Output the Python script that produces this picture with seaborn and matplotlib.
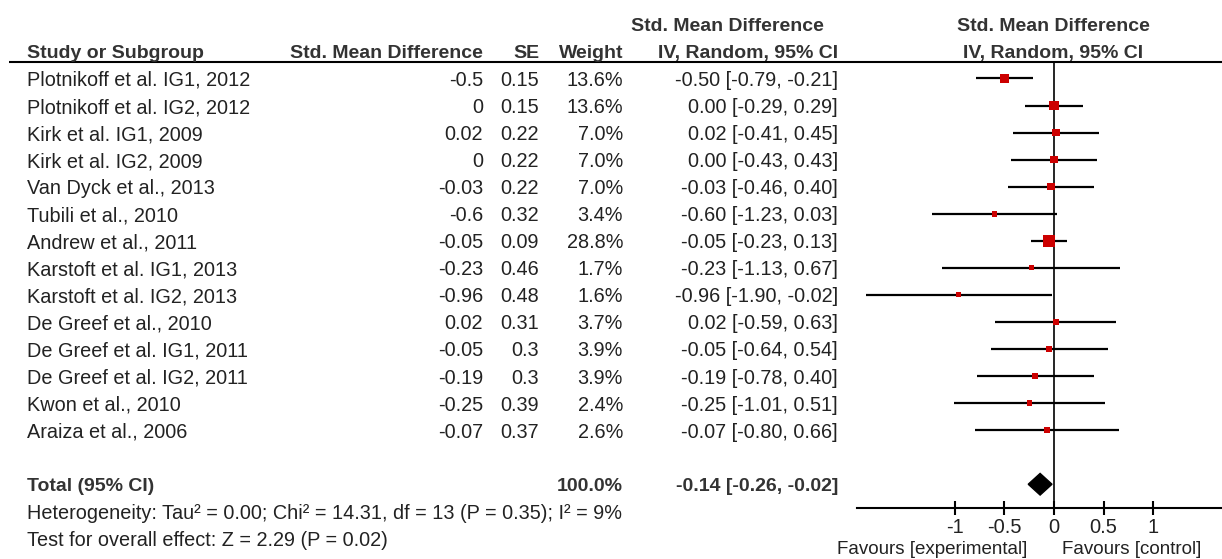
import numpy as np
import pandas as pd
import seaborn as sns
import matplotlib.pyplot as plt

studies = ["Plotnikoff et al. IG1, 2012", "Plotnikoff et al. IG2, 2012", "Kirk et al. IG1, 2009",
           "Kirk et al. IG2, 2009", "Van Dyck et al., 2013", "Tubili et al., 2010",
           "Andrew et al., 2011", "Karstoft et al. IG1, 2013", "Karstoft et al. IG2, 2013",
           "De Greef et al., 2010", "De Greef et al. IG1, 2011", "De Greef et al. IG2, 2011",
           "Kwon et al., 2010", "Araiza et al., 2006"]
smd = [-0.5, 0, 0.02, 0, -0.03, -0.6, -0.05, -0.23, -0.96, 0.02, -0.05, -0.19, -0.25, -0.07]
se = [0.15, 0.15, 0.22, 0.22, 0.22, 0.32, 0.09, 0.46, 0.48, 0.31, 0.3, 0.3, 0.39, 0.37]
weight = [13.6, 13.6, 7.0, 7.0, 7.0, 3.4, 28.8, 1.7, 1.6, 3.7, 3.9, 3.9, 2.4, 2.6]
ci_lo = [-0.79, -0.29, -0.41, -0.43, -0.46, -1.23, -0.23, -1.13, -1.90, -0.59, -0.64, -0.78, -1.01, -0.80]
ci_hi = [-0.21, 0.29, 0.45, 0.43, 0.40, 0.03, 0.13, 0.67, -0.02, 0.63, 0.54, 0.40, 0.51, 0.66]
total_est, total_lo, total_hi = -0.14, -0.26, -0.02
total_weight = 100.0
heterogeneity = "Heterogeneity: Tau² = 0.00; Chi² = 14.31, df = 13 (P = 0.35); I² = 9%"
overall = "Test for overall effect: Z = 2.29 (P = 0.02)"
ticks = [-1, -0.5, 0, 0.5, 1]
tick_labels = ["-1", "-0.5", "0", "0.5", "1"]

sns.set_theme(style="white")
plt.rcParams['font.family'] = ['Liberation Sans', 'DejaVu Sans']

W, H = 1222, 559
fig = plt.figure(figsize=(W / 100, H / 100), dpi=100)

# layout axes in pixel units for the table part
tab = fig.add_axes([0, 0, 1, 1])
tab.set_xlim(0, W)
tab.set_ylim(H, 0)
tab.axis('off')

def ry(i):
    return 78.5 + 27.05 * i

body = dict(fontsize=14.3, color='#222222', va='center')
head = dict(fontsize=14, color='#333333', va='center', fontweight='bold')
off = 2

# headers
tab.text(27, ry(-1) + off, "Study or Subgroup", ha='left', **head)
tab.text(483, ry(-1) + off, "Std. Mean Difference", ha='right', **head)
tab.text(539, ry(-1) + off, "SE", ha='right', **head)
tab.text(623, ry(-1) + off, "Weight", ha='right', **head)
tab.text(727, ry(-2) + off, "Std. Mean Difference", ha='center', **head)
tab.text(748, ry(-1) + off, "IV, Random, 95% CI", ha='center', **head)
tab.text(1053, ry(-2) + off, "Std. Mean Difference", ha='center', **head)
tab.text(1053, ry(-1) + off, "IV, Random, 95% CI", ha='center', **head)
tab.plot([9, W], [62, 62], color='black', lw=1.5, solid_capstyle='butt')

for i, name in enumerate(studies):
    y = ry(i) + off
    tab.text(27, y, name, ha='left', **body)
    tab.text(483, y, f"{smd[i]:g}", ha='right', **body)
    tab.text(539, y, f"{se[i]:g}", ha='right', **body)
    tab.text(623, y, f"{weight[i]:.1f}%", ha='right', **body)
    tab.text(838, y, f"{smd[i]:.2f} [{ci_lo[i]:.2f}, {ci_hi[i]:.2f}]", ha='right', **body)

tab.text(27, ry(15) + off, "Total (95% CI)", ha='left', **head)
tab.text(623, ry(15) + off, f"{total_weight:.1f}%", ha='right', **head)
tab.text(838, ry(15) + off, f"{total_est:.2f} [{total_lo:.2f}, {total_hi:.2f}]", ha='right', **head)
tab.text(27, ry(16) + off, heterogeneity, ha='left', **body)
tab.text(27, ry(17) + off, overall, ha='left', **body)

tab.text(1027, 550, "Favours [experimental]", ha='right', fontsize=13.5, color='#222222', va='center')
tab.text(1062, 550, "Favours [control]", ha='left', fontsize=13.5, color='#222222', va='center')

# forest panel
x0px, x1px, y0px, y1px = 857, 1222, 62, 508
zero_px, ppu = 1054, 99.2
ax = fig.add_axes([x0px / W, 1 - y1px / H, (x1px - x0px) / W, (y1px - y0px) / H])
ax.patch.set_alpha(0)

df = pd.DataFrame({"study": studies, "smd": smd, "weight": weight,
                   "lo": ci_lo, "hi": ci_hi, "row": np.arange(len(studies))})
ax.hlines(df["row"], df["lo"], df["hi"], color='black', lw=1.6)
sns.scatterplot(data=df, x="smd", y="row", size="weight", sizes=(13, 82), marker='s',
                color='#CC0000', linewidth=0, legend=False, ax=ax, zorder=3)
tot_row = 15
ax.fill([total_lo, total_est, total_hi, total_est],
        [tot_row, tot_row - 0.4, tot_row, tot_row + 0.4], color='black', zorder=3)
ax.axvline(0, color='black', lw=1.2)

ax.set_xlim((x0px - zero_px) / ppu, (x1px - zero_px) / ppu)
ax.set_ylim((y1px - 78.5) / 27.05, (y0px - 78.5) / 27.05)
ax.set_xlabel("")
ax.set_ylabel("")
ax.set_yticks([])
ax.set_xticks(ticks)
ax.set_xticklabels(tick_labels)
for s in ['top', 'left', 'right']:
    ax.spines[s].set_visible(False)
ax.spines['bottom'].set_color('black')
ax.spines['bottom'].set_linewidth(1.5)
ax.tick_params(axis='x', direction='inout', length=10, width=1.5, color='black',
               labelsize=14.5, labelcolor='#222222', pad=2, bottom=True)

fig.savefig("out.png", dpi=100)
